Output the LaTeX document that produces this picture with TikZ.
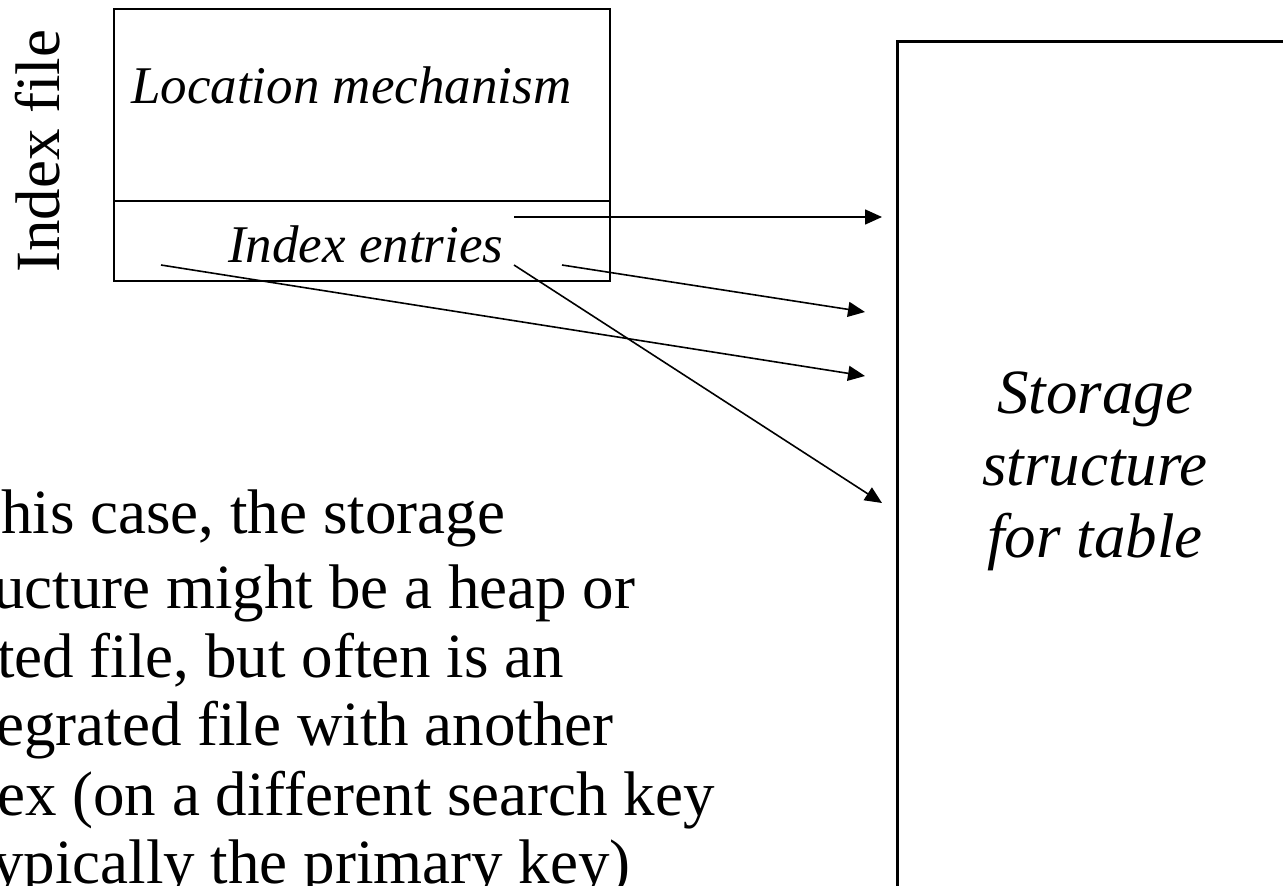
\documentclass[tikz,border=0pt]{standalone}
\usepackage{fontspec}
\setmainfont{Liberation Serif}
\usetikzlibrary{arrows.meta}

\tikzset{
  big/.style={font=\fontsize{63}{72}\selectfont, inner sep=0pt},
  bigit/.style={font=\fontsize{63}{72}\selectfont\itshape, inner sep=0pt},
  smallit/.style={font=\fontsize{53}{60}\selectfont\itshape, inner sep=0pt},
  boxline/.style={draw=black, line width=2pt},
  storeline/.style={draw=black, line width=3pt},
  ptr/.style={draw=black, line width=1.6pt, -{Triangle[length=17pt,width=15pt]}},
}

\begin{document}
\begin{tikzpicture}[x=1pt, y=-1pt]
  \useasboundingbox (0,0) rectangle (1283,886);
  \fill[white] (0,0) rectangle (1283,886);
  \begin{scope}
    \clip (0,0) rectangle (1283,886);

    % index file: location mechanism above, index entries below
    \path[boxline] (114,9) rectangle (610,201);
    \path[boxline] (114,201) rectangle (610,281);
    \node[smallit, anchor=base west] (loc) at (131,103) {Location mechanism};
    \node[smallit, anchor=base west] (entries) at (228,262) {Index entries};
    \node[big, rotate=90, anchor=base west] (idxlabel) at (59,273) {Index file};

    % storage structure, running off the page to the right and bottom
    \path[storeline] (897,41) rectangle (1310,910);
    \node[bigit, align=center, anchor=base] (store) at (1095,557)
      {Storage\\structure\\for table};

    % explanatory text
    \node[big, anchor=base west] (t1) at (1,533) {his case, the storage};
    \node[big, anchor=base west] (t2) at (-7,608) {ucture might be a heap or};
    \node[big, anchor=base west] (t3) at (-3,677) {ted file, but often is an};
    \node[big, anchor=base west] (t4) at (-4,745) {egrated file with another};
    \node[big, anchor=base west] (t5) at (-3,815) {ex (on a different search key};
    \node[big, anchor=base west] (t6) at (-8,883) {ypically the primary key)};

    % pointers from index entries to records
    \coordinate (s1) at (514,217);
    \coordinate (s2) at (562,265);
    \coordinate (s3) at (161,265);
    \coordinate (s4) at (514,265);
    \coordinate (e1) at (882,217);
    \coordinate (e2) at (865,312);
    \coordinate (e3) at (865,376);
    \coordinate (e4) at (882,503);
    \draw[ptr] (s1) -- (e1);
    \draw[ptr] (s2) -- (e2);
    \draw[ptr] (s3) -- (e3);
    \draw[ptr] (s4) -- (e4);
  \end{scope}
\end{tikzpicture}
\end{document}
